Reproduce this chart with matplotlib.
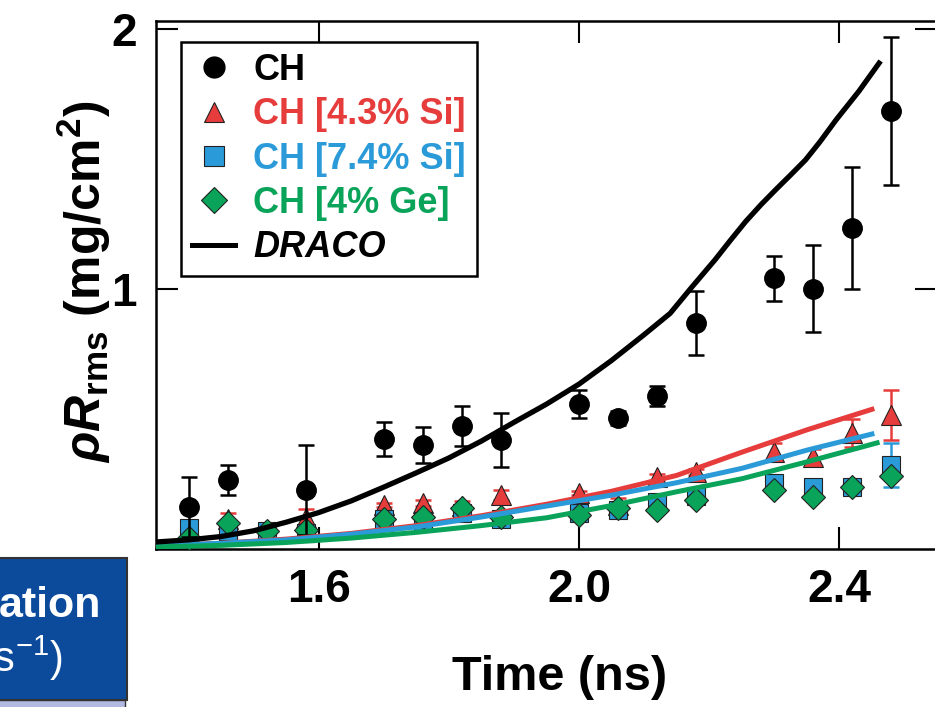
import matplotlib
matplotlib.use("Agg")
import matplotlib.pyplot as plt
from matplotlib.lines import Line2D
from matplotlib.patches import Rectangle
from matplotlib import font_manager

# ---- data ----
t_ch = [1.40, 1.46, 1.58, 1.70, 1.76, 1.82, 1.88, 2.00, 2.06, 2.12, 2.18, 2.30, 2.36, 2.42, 2.48]
rho_ch = [0.162, 0.265, 0.227, 0.423, 0.400, 0.473, 0.419, 0.558, 0.504, 0.588, 0.869, 1.040, 1.000, 1.235, 1.685]
err_ch = [0.115, 0.058, 0.173, 0.065, 0.070, 0.077, 0.104, 0.054, 0.027, 0.040, 0.123, 0.085, 0.167, 0.235, 0.285]

t_dop = [1.40, 1.46, 1.52, 1.58, 1.70, 1.76, 1.82, 1.88, 2.00, 2.06, 2.12, 2.18, 2.30, 2.36, 2.42, 2.48]
rho_si43 = [0.050, 0.115, 0.070, 0.120, 0.170, 0.177, 0.165, 0.207, 0.215, 0.170, 0.277, 0.296, 0.373, 0.354, 0.446, 0.515]
err_si43 = [0.015, 0.023, 0.015, 0.034, 0.008, 0.010, 0.020, 0.020, 0.008, 0.025, 0.010, 0.010, 0.035, 0.030, 0.054, 0.095]
rho_si74 = [0.081, 0.070, 0.070, 0.060, 0.115, 0.108, 0.138, 0.115, 0.138, 0.150, 0.180, 0.204, 0.254, 0.240, 0.238, 0.323]
err_si74 = [0.010, 0.010, 0.010, 0.030, 0.010, 0.010, 0.010, 0.010, 0.010, 0.010, 0.010, 0.010, 0.020, 0.010, 0.010, 0.085]
rho_ge4 = [0.042, 0.100, 0.070, 0.073, 0.115, 0.124, 0.158, 0.124, 0.131, 0.157, 0.150, 0.188, 0.227, 0.200, 0.238, 0.280]

# DRACO simulation curves
t_draco = [1.35, 1.40, 1.45, 1.50, 1.55, 1.60, 1.65, 1.70, 1.75, 1.80, 1.85, 1.90, 1.95, 2.00,
           2.05, 2.10, 2.14, 2.174, 2.209, 2.232, 2.256, 2.28, 2.302, 2.325, 2.348, 2.37, 2.395, 2.43, 2.461]
rho_draco = [0.027, 0.035, 0.048, 0.070, 0.103, 0.140, 0.185, 0.238, 0.293, 0.350, 0.415, 0.487, 0.557, 0.634,
             0.725, 0.824, 0.906, 1.009, 1.112, 1.185, 1.259, 1.325, 1.381, 1.438, 1.496, 1.565, 1.650, 1.760, 1.868]

t_sim = [1.35, 1.45, 1.55, 1.65, 1.75, 1.85, 1.95, 2.05, 2.15, 2.25, 2.35, 2.45]
sim_si43 = [0.012, 0.022, 0.038, 0.060, 0.090, 0.128, 0.172, 0.222, 0.283, 0.372, 0.458, 0.537]
sim_si74 = [0.012, 0.022, 0.035, 0.057, 0.085, 0.123, 0.165, 0.207, 0.255, 0.310, 0.380, 0.442]
t_sim_ge = [1.35, 1.45, 1.55, 1.65, 1.75, 1.85, 1.95, 2.05, 2.15, 2.25, 2.35, 2.458]
sim_ge4 = [0.008, 0.014, 0.025, 0.042, 0.064, 0.090, 0.120, 0.167, 0.220, 0.270, 0.335, 0.408]

RED = "#e63c3c"
BLUE = "#2a9bd8"
GREEN = "#0aa35a"

names = {f.name for f in font_manager.fontManager.ttflist}
narrow = "Liberation Sans Narrow" if "Liberation Sans Narrow" in names else "Liberation Sans"

plt.rcParams["font.family"] = ["Liberation Sans", "DejaVu Sans"]
plt.rcParams["font.weight"] = "bold"
plt.rcParams["mathtext.fontset"] = "custom"
plt.rcParams["mathtext.rm"] = narrow + ":bold"
plt.rcParams["mathtext.bf"] = narrow + ":bold"
plt.rcParams["mathtext.it"] = narrow + ":bold:italic"

fig = plt.figure(figsize=(9.35, 7.07), dpi=100)
ax = fig.add_axes([156 / 935, 158 / 707, 781 / 935, 528 / 707])

# data points
ax.errorbar(t_dop, rho_si43, yerr=err_si43, fmt="none", ecolor=RED, elinewidth=1.8, capsize=5.5, capthick=1.8, zorder=2)
ax.plot(t_dop, rho_si43, "^", ms=14, mfc=RED, mec="#222222", mew=0.8, zorder=3)
ax.errorbar(t_dop, rho_si74, yerr=err_si74, fmt="none", ecolor=BLUE, elinewidth=1.8, capsize=5.5, capthick=1.8, zorder=3.5)
ax.plot(t_dop, rho_si74, "s", ms=13.5, mfc=BLUE, mec="#222222", mew=0.8, zorder=4)
ax.plot(t_dop, rho_ge4, "D", ms=12, mfc=GREEN, mec="#222222", mew=0.8, zorder=5)
ax.errorbar(t_ch, rho_ch, yerr=err_ch, fmt="o", ms=14, color="black", ecolor="black",
            elinewidth=1.8, capsize=5.5, capthick=1.8, zorder=6)

# simulation lines
ax.plot(t_sim, sim_si43, color=RED, lw=3.6, zorder=7)
ax.plot(t_sim, sim_si74, color=BLUE, lw=3.6, zorder=8)
ax.plot(t_sim_ge, sim_ge4, color=GREEN, lw=3.6, zorder=8)
ax.plot(t_draco, rho_draco, color="black", lw=3.8, zorder=9, solid_joinstyle="round")

ax.set_xlim(1.35, 2.55)
ax.set_ylim(0, 2.03)
ax.set_xticks([1.6, 2.0, 2.4])
ax.set_xticklabels(["1.6", "2.0", "2.4"])
ax.set_yticks([1, 2])
ax.set_yticklabels(["1", "2"])
ax.tick_params(direction="in", length=15.8, width=1.5, top=True, right=True, pad=14)
for lab in ax.get_xticklabels() + ax.get_yticklabels():
    lab.set_fontfamily(narrow)
    lab.set_fontsize(33)
    lab.set_fontweight("bold")
for sp in ax.spines.values():
    sp.set_linewidth(1.8)

fig.text(560 / 935, 1 - 677 / 707, "Time (ns)", ha="center", va="center",
         fontsize=35, fontweight="bold", family=narrow)
fig.text(84 / 935, 1 - 282 / 707, r"$\it{\rho R}_{\rm rms}$ (mg/cm$^{\rm 2}$)", rotation=90,
         ha="center", va="center", fontsize=36, fontweight="bold", family=narrow)

# legend
handles = [
    Line2D([], [], ls="none", marker="o", ms=15, color="black"),
    Line2D([], [], ls="none", marker="^", ms=15, mfc=RED, mec="#222222", mew=0.8),
    Line2D([], [], ls="none", marker="s", ms=14, mfc=BLUE, mec="#222222", mew=0.8),
    Line2D([], [], ls="none", marker="D", ms=13, mfc=GREEN, mec="#222222", mew=0.8),
    Line2D([], [], color="black", lw=3.6),
]
labels = ["CH", "CH [4.3% Si]", "CH [7.4% Si]", "CH [4% Ge]", "DRACO"]
leg = ax.legend(handles, labels, loc="upper left", bbox_to_anchor=(181 / 935, 1 - 42 / 707),
                bbox_transform=fig.transFigure, borderaxespad=0, fancybox=False, framealpha=1,
                edgecolor="black", fontsize=26, handlelength=1.2, handletextpad=0.5,
                borderpad=0.3, labelspacing=0.26,
                labelcolor=["black", RED, BLUE, GREEN, "black"])
leg.get_frame().set_linewidth(1.8)
leg.get_texts()[-1].set_fontstyle("italic")
leg.set_zorder(20)

# cut-off panel at lower left
fig.patches.append(Rectangle((-10 / 935, 7 / 707), 137 / 935, 142 / 707, transform=fig.transFigure,
                             facecolor="#0c4a9c", edgecolor="#333333", lw=1.5, zorder=1))
fig.patches.append(Rectangle((-10 / 935, -5 / 707), 135 / 935, 12 / 707, transform=fig.transFigure,
                             facecolor="#b3b9e0", edgecolor="#333333", lw=1.0, zorder=1))
fig.text(101 / 935, 1 - 617 / 707, "ation", ha="right", va="baseline", color="white",
         fontsize=31, fontweight="bold")
fig.text(63 / 935, 1 - 672 / 707, r"(s$^{\mathregular{-1}}$)", ha="right", va="baseline", color="white",
         fontsize=30, fontweight="normal")

fig.savefig("out.png", dpi=100)
